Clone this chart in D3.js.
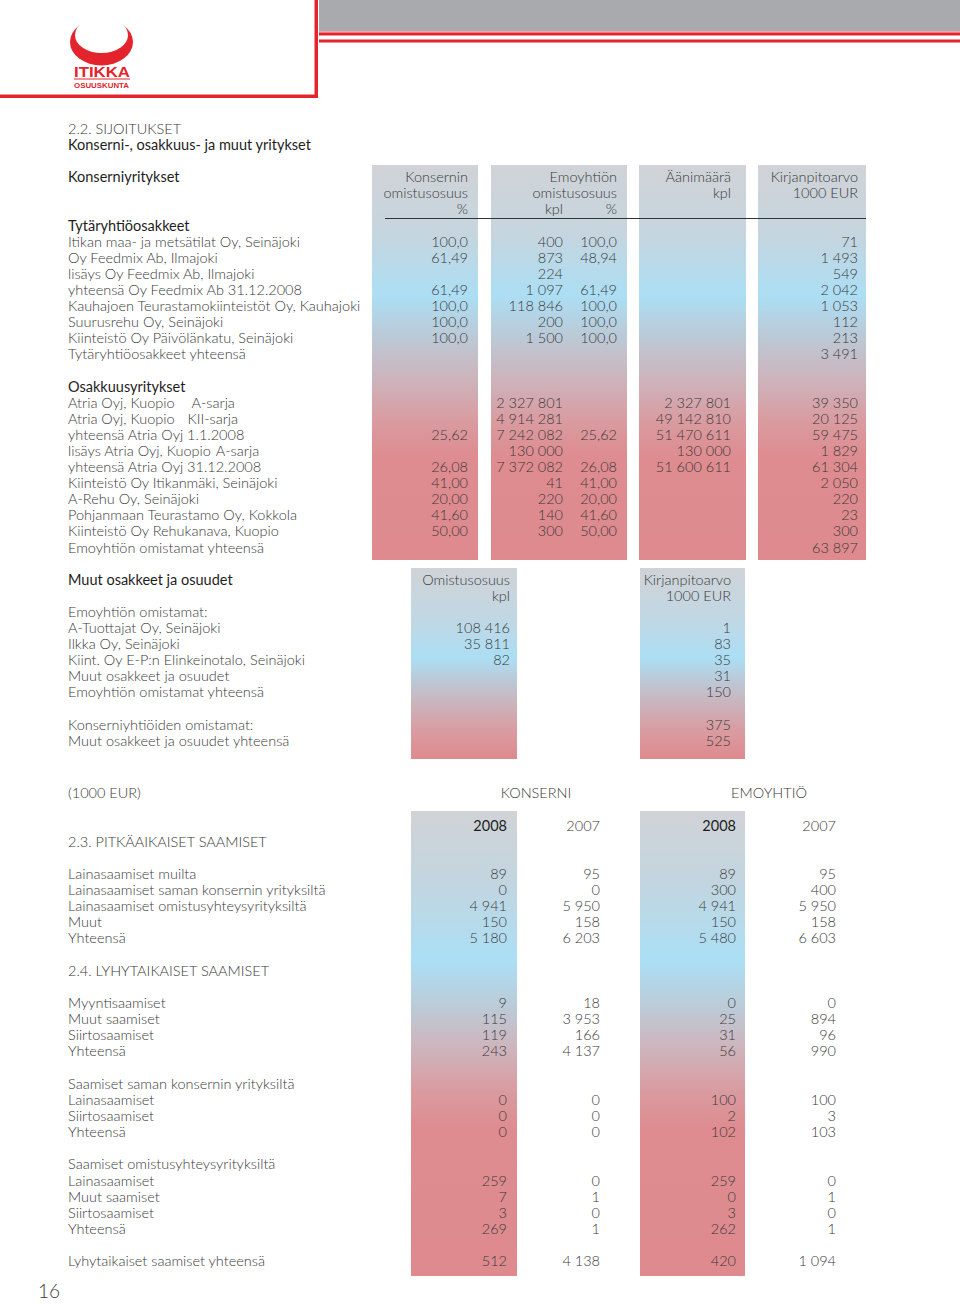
<!DOCTYPE html>
<html><head><meta charset="utf-8">
<script src="https://cdn.jsdelivr.net/npm/d3@7"></script>
<style>
body{margin:0;background:#fff}
svg text{font-family:Lato,"Open Sans",sans-serif;font-weight:300;fill:#3a3a3a;font-size:14.5px}
</style></head><body><svg id="c" width="960" height="1304"></svg>
<script>
// ---------- DATA ----------
const titleLines = ["2.2. SIJOITUKSET", "Konserni-, osakkuus- ja muut yritykset"];
const section1Heading = "Konserniyritykset";
const colHeadKons = ["Konsernin", "omistusosuus", "%"];
const colHeadEmo = ["Emoyhtiön", "omistusosuus"];
const colHeadEmoSub = ["kpl", "%"];
const colHeadAani = ["Äänimäärä", "kpl"];
const colHeadKirja = ["Kirjanpitoarvo", "1000 EUR"];

const tytarHeading = "Tytäryhtiöosakkeet";
const tytarLabels = ["Itikan maa- ja metsätilat Oy, Seinäjoki", "Oy Feedmix Ab, Ilmajoki", "lisäys Oy Feedmix Ab, Ilmajoki", "yhteensä Oy Feedmix Ab 31.12.2008", "Kauhajoen Teurastamokiinteistöt Oy, Kauhajoki", "Suurusrehu Oy, Seinäjoki", "Kiinteistö Oy Päivölänkatu, Seinäjoki", "Tytäryhtiöosakkeet yhteensä"];
const tytarKonsPct = ["100,0", "61,49", "", "61,49", "100,0", "100,0", "100,0", ""];
const tytarEmoKpl = ["400", "873", "224", "1 097", "118 846", "200", "1 500", ""];
const tytarEmoPct = ["100,0", "48,94", "", "61,49", "100,0", "100,0", "100,0", ""];
const tytarAani = ["", "", "", "", "", "", "", ""];
const tytarKirja = ["71", "1 493", "549", "2 042", "1 053", "112", "213", "3 491"];

const osakHeading = "Osakkuusyritykset";
const osakLabels = ["Atria Oyj, Kuopio", "Atria Oyj, Kuopio", "yhteensä Atria Oyj 1.1.2008", "lisäys Atria Oyj, Kuopio", "yhteensä Atria Oyj 31.12.2008", "Kiinteistö Oy Itikanmäki, Seinäjoki", "A-Rehu Oy, Seinäjoki", "Pohjanmaan Teurastamo Oy, Kokkola", "Kiinteistö Oy Rehukanava, Kuopio", "Emoyhtiön omistamat yhteensä"];
const osakSarja = ["A-sarja", "KII-sarja", "", "A-sarja", "", "", "", "", "", ""];
const osakKonsPct = ["", "", "25,62", "", "26,08", "41,00", "20,00", "41,60", "50,00", ""];
const osakEmoKpl = ["2 327 801", "4 914 281", "7 242 082", "130 000", "7 372 082", "41", "220", "140", "300", ""];
const osakEmoPct = ["", "", "25,62", "", "26,08", "41,00", "20,00", "41,60", "50,00", ""];
const osakAani = ["2 327 801", "49 142 810", "51 470 611", "130 000", "51 600 611", "", "", "", "", ""];
const osakKirja = ["39 350", "20 125", "59 475", "1 829", "61 304", "2 050", "220", "23", "300", "63 897"];

const muutHeading = "Muut osakkeet ja osuudet";
const muutColHeadOm = ["Omistusosuus", "kpl"];
const muutColHeadKirja = ["Kirjanpitoarvo", "1000 EUR"];
const muutSubHeading = "Emoyhtiön omistamat:";
const muutLabels = ["A-Tuottajat Oy, Seinäjoki", "Ilkka Oy, Seinäjoki", "Kiint. Oy E-P:n Elinkeinotalo, Seinäjoki", "Muut osakkeet ja osuudet", "Emoyhtiön omistamat yhteensä"];
const muutKpl = ["108 416", "35 811", "82", "", ""];
const muutKirja = ["1", "83", "35", "31", "150"];
const konsOmLabels = ["Konserniyhtiöiden omistamat:", "Muut osakkeet ja osuudet yhteensä"];
const konsOmKirja = ["375", "525"];

const unitLabel = "(1000 EUR)";
const groupLabels = ["KONSERNI", "EMOYHTIÖ"];
const yearLabels = ["2008", "2007", "2008", "2007"];

const pitkaTitle = "2.3. PITKÄAIKAISET SAAMISET";
const pitkaLabels = ["Lainasaamiset muilta", "Lainasaamiset saman konsernin yrityksiltä", "Lainasaamiset omistusyhteysyrityksiltä", "Muut", "Yhteensä"];
const pitkaK08 = ["89", "0", "4 941", "150", "5 180"];
const pitkaK07 = ["95", "0", "5 950", "158", "6 203"];
const pitkaE08 = ["89", "300", "4 941", "150", "5 480"];
const pitkaE07 = ["95", "400", "5 950", "158", "6 603"];

const lyhytTitle = "2.4. LYHYTAIKAISET SAAMISET";
const lyhytLabels = ["Myyntisaamiset", "Muut saamiset", "Siirtosaamiset", "Yhteensä"];
const lyhytK08 = ["9", "115", "119", "243"];
const lyhytK07 = ["18", "3 953", "166", "4 137"];
const lyhytE08 = ["0", "25", "31", "56"];
const lyhytE07 = ["0", "894", "96", "990"];

const konsSaamTitle = "Saamiset saman konsernin yrityksiltä";
const konsSaamLabels = ["Lainasaamiset", "Siirtosaamiset", "Yhteensä"];
const konsSaamK08 = ["0", "0", "0"];
const konsSaamK07 = ["0", "0", "0"];
const konsSaamE08 = ["100", "2", "102"];
const konsSaamE07 = ["100", "3", "103"];

const omSaamTitle = "Saamiset omistusyhteysyrityksiltä";
const omSaamLabels = ["Lainasaamiset", "Muut saamiset", "Siirtosaamiset", "Yhteensä"];
const omSaamK08 = ["259", "7", "3", "269"];
const omSaamK07 = ["0", "1", "0", "1"];
const omSaamE08 = ["259", "0", "3", "262"];
const omSaamE07 = ["0", "1", "0", "1"];

const totalLabel = "Lyhytaikaiset saamiset yhteensä";
const totalVals = ["512", "4 138", "420", "1 094"];
const pageNumber = "16";

// ---------- DRAW ----------
const svg = d3.select("#c");
const defs = svg.append("defs");
const RED = "#e3242c";

// header band
svg.append("rect").attr("x", 319).attr("y", 0).attr("width", 641).attr("height", 31).attr("fill", "#a8aaad");
svg.append("rect").attr("x", 319).attr("y", 31).attr("width", 641).attr("height", 1.5).attr("fill", "#f2a3a7");
svg.append("rect").attr("x", 319).attr("y", 32.5).attr("width", 641).attr("height", 3).attr("fill", RED);
svg.append("rect").attr("x", 319).attr("y", 39.5).attr("width", 641).attr("height", 3).attr("fill", RED);
// logo box border
svg.append("rect").attr("x", 314.5).attr("y", 0).attr("width", 3.5).attr("height", 98).attr("fill", RED);
svg.append("rect").attr("x", 0).attr("y", 94.5).attr("width", 318).attr("height", 3.5).attr("fill", RED);

// logo
const mask = defs.append("mask").attr("id", "ringMask");
mask.append("rect").attr("x", 60).attr("y", 20).attr("width", 90).attr("height", 60).attr("fill", "#fff");
mask.append("ellipse").attr("cx", 101.5).attr("cy", 35).attr("rx", 26.5).ry = null;
mask.select("ellipse").attr("ry", 18).attr("fill", "#000");
mask.append("rect").attr("x", 86).attr("y", 10).attr("width", 31).attr("height", 12).attr("fill", "#000");
svg.append("ellipse").attr("cx", 101.5).attr("cy", 42).attr("rx", 31.5).attr("ry", 23.5).attr("fill", RED).attr("mask", "url(#ringMask)");
svg.append("text").attr("x", 74).attr("y", 77).attr("textLength", 56).attr("lengthAdjust", "spacingAndGlyphs")
  .style("font-family", "'Liberation Sans Narrow','Liberation Sans',sans-serif").style("font-weight", 700)
  .style("font-size", "14px").style("fill", RED).text("ITIKKA");
svg.append("rect").attr("x", 74).attr("y", 78.5).attr("width", 56).attr("height", 1).attr("fill", RED);
svg.append("text").attr("x", 74).attr("y", 88).attr("textLength", 55).attr("lengthAdjust", "spacingAndGlyphs")
  .style("font-family", "'Liberation Sans Narrow','Liberation Sans',sans-serif").style("font-weight", 700)
  .style("font-size", "8px").style("fill", RED).text("OSUUSKUNTA");

// gradients
function grad(id, y1, y2, stops) {
  const g = defs.append("linearGradient").attr("id", id).attr("gradientUnits", "userSpaceOnUse")
    .attr("x1", 0).attr("x2", 0).attr("y1", y1).attr("y2", y2);
  stops.forEach(s => g.append("stop").attr("offset", s[0]).attr("stop-color", s[1]));
}
grad("g1", 165, 560, [[0, "#d0d3d7"], [0.17, "#c6d5de"], [0.33, "#acdef4"], [0.44, "#bcc8d5"], [0.54, "#cdb4bc"], [0.65, "#d99ba0"], [0.74, "#de8c90"], [1, "#de8a8e"]]);
grad("g2", 568, 759, [[0, "#d0d3d7"], [0.25, "#c2d7e3"], [0.47, "#acdef4"], [0.68, "#c7b9c2"], [0.85, "#d99ca1"], [1, "#de8a8e"]]);
grad("g3", 811, 1276, [[0, "#d0d3d7"], [0.15, "#c3d5df"], [0.32, "#abdff5"], [0.42, "#bccbd8"], [0.5, "#ccb7bf"], [0.6, "#d99ca1"], [0.68, "#de8c90"], [1, "#de8a8e"]]);

// scales: rows
const row1 = d3.scaleLinear().domain([0, 1]).range([177, 193.1]);
const row3 = d3.scaleLinear().domain([0, 1]).range([793, 809.14]);

// column boxes
const box1 = d3.scaleOrdinal().domain(["A", "B", "C", "D"]).range([[372, 478], [491, 627], [639, 746], [758, 866]]);
const box2 = d3.scaleOrdinal().domain(["om", "kirja"]).range([[411, 517], [640, 745]]);
const box3 = d3.scaleOrdinal().domain(["k08", "e08"]).range([[411, 517], [640, 745]]);
box1.domain().forEach(k => { const r = box1(k); svg.append("rect").attr("x", r[0]).attr("y", 165).attr("width", r[1] - r[0]).attr("height", 395).attr("fill", "url(#g1)"); });
box2.domain().forEach(k => { const r = box2(k); svg.append("rect").attr("x", r[0]).attr("y", 568).attr("width", r[1] - r[0]).attr("height", 191).attr("fill", "url(#g2)"); });
box3.domain().forEach(k => { const r = box3(k); svg.append("rect").attr("x", r[0]).attr("y", 811).attr("width", r[1] - r[0]).attr("height", 465).attr("fill", "url(#g3)"); });

// right edges of value columns
const col1 = d3.scaleOrdinal().domain(["konsPct", "emoKpl", "emoPct", "aani", "kirja"]).range([468, 563, 617, 731, 858]);
const col2 = d3.scaleOrdinal().domain(["om", "kirja"]).range([510, 731]);
const col3 = d3.scaleOrdinal().domain(["k08", "k07", "e08", "e07"]).range([507, 600, 736, 836]);
const LX = 68;

function txt(x, y, s, opts = {}) {
  const t = svg.append("text").attr("x", x).attr("y", y).attr("dy", "0.36em").text(s);
  if (opts.anchor) t.attr("text-anchor", opts.anchor);
  if (opts.bold) t.style("font-weight", 400).style("fill", "#1e1e1e");
  if (opts.size) t.style("font-size", opts.size);
  return t;
}

// titles
txt(LX, row1(-3), titleLines[0]);
txt(LX, row1(-2), titleLines[1], { bold: true });
txt(LX, row1(0), section1Heading, { bold: true });
colHeadKons.forEach((s, i) => txt(col1("konsPct"), row1(i), s, { anchor: "end" }));
colHeadEmo.forEach((s, i) => txt(col1("emoPct"), row1(i), s, { anchor: "end" }));
txt(col1("emoKpl"), row1(2), colHeadEmoSub[0], { anchor: "end" });
txt(col1("emoPct"), row1(2), colHeadEmoSub[1], { anchor: "end" });
colHeadAani.forEach((s, i) => txt(col1("aani"), row1(i), s, { anchor: "end" }));
colHeadKirja.forEach((s, i) => txt(col1("kirja"), row1(i), s, { anchor: "end" }));
svg.append("line").attr("x1", 385).attr("x2", 866).attr("y1", 218.5).attr("y2", 218.5).attr("stroke", "#333").attr("stroke-width", 1);

// tytär
txt(LX, row1(3), tytarHeading, { bold: true });
tytarLabels.forEach((s, i) => {
  const y = row1(4 + i);
  txt(LX, y, s);
  txt(col1("konsPct"), y, tytarKonsPct[i], { anchor: "end" });
  txt(col1("emoKpl"), y, tytarEmoKpl[i], { anchor: "end" });
  txt(col1("emoPct"), y, tytarEmoPct[i], { anchor: "end" });
  txt(col1("aani"), y, tytarAani[i], { anchor: "end" });
  txt(col1("kirja"), y, tytarKirja[i], { anchor: "end" });
});

// osakkuus
txt(LX, row1(13), osakHeading, { bold: true });
const sarjaGap = [17, 13, 0, 5];
osakLabels.forEach((s, i) => {
  const y = row1(14 + i);
  const t = txt(LX, y, s);
  if (osakSarja[i]) t.append("tspan").attr("dx", sarjaGap[i]).text(osakSarja[i]);
  txt(col1("konsPct"), y, osakKonsPct[i], { anchor: "end" });
  txt(col1("emoKpl"), y, osakEmoKpl[i], { anchor: "end" });
  txt(col1("emoPct"), y, osakEmoPct[i], { anchor: "end" });
  txt(col1("aani"), y, osakAani[i], { anchor: "end" });
  txt(col1("kirja"), y, osakKirja[i], { anchor: "end" });
});

// muut
txt(LX, row1(25), muutHeading, { bold: true });
muutColHeadOm.forEach((s, i) => txt(col2("om"), row1(25 + i), s, { anchor: "end" }));
muutColHeadKirja.forEach((s, i) => txt(col2("kirja"), row1(25 + i), s, { anchor: "end" }));
txt(LX, row1(27), muutSubHeading);
muutLabels.forEach((s, i) => {
  const y = row1(28 + i);
  txt(LX, y, s);
  txt(col2("om"), y, muutKpl[i], { anchor: "end" });
  txt(col2("kirja"), y, muutKirja[i], { anchor: "end" });
});
konsOmLabels.forEach((s, i) => {
  const y = row1(34 + i);
  txt(LX, y, s);
  txt(col2("kirja"), y, konsOmKirja[i], { anchor: "end" });
});

// section 3
txt(LX, row3(0), unitLabel);
txt(536, row3(0), groupLabels[0], { anchor: "middle" });
txt(769, row3(0), groupLabels[1], { anchor: "middle" });
["k08", "k07", "e08", "e07"].forEach((k, i) => txt(col3(k), row3(2), yearLabels[i], { anchor: "end", bold: i % 2 === 0 }));
txt(LX, row3(3), pitkaTitle);

function block(labels, k08, k07, e08, e07, start) {
  labels.forEach((s, i) => {
    const y = row3(start + i);
    txt(LX, y, s);
    txt(col3("k08"), y, k08[i], { anchor: "end" });
    txt(col3("k07"), y, k07[i], { anchor: "end" });
    txt(col3("e08"), y, e08[i], { anchor: "end" });
    txt(col3("e07"), y, e07[i], { anchor: "end" });
  });
}
block(pitkaLabels, pitkaK08, pitkaK07, pitkaE08, pitkaE07, 5);
txt(LX, row3(11), lyhytTitle);
block(lyhytLabels, lyhytK08, lyhytK07, lyhytE08, lyhytE07, 13);
txt(LX, row3(18), konsSaamTitle);
block(konsSaamLabels, konsSaamK08, konsSaamK07, konsSaamE08, konsSaamE07, 19);
txt(LX, row3(23), omSaamTitle);
block(omSaamLabels, omSaamK08, omSaamK07, omSaamE08, omSaamE07, 24);
block([totalLabel], [totalVals[0]], [totalVals[1]], [totalVals[2]], [totalVals[3]], 29);

txt(38, 1291, pageNumber, { size: "19px" });
</script></body></html>
